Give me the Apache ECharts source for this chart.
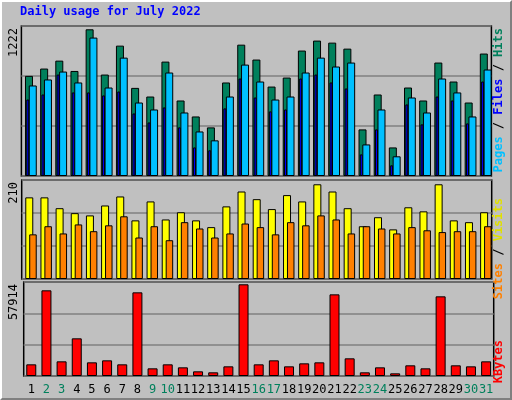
<!DOCTYPE html>
<html>
<head>
<meta charset="UTF-8">
<script src="https://cdn.jsdelivr.net/npm/echarts@6/dist/echarts.min.js"></script>
<style>
  html, body { margin: 0; padding: 0; }
  #frame {
    width: 508px; height: 396px;
    background: #c0c0c0;
    border-top: 2px solid #ffffff; border-left: 2px solid #ffffff;
    border-right: 2px solid #808080; border-bottom: 2px solid #808080;
  }
  #chart { width: 508px; height: 396px; }
</style>
</head>
<body>
<div id="frame"><div id="chart"></div></div>
<script>
// daily values
const days = ['1','2','3','4','5','6','7','8','9','10','11','12','13','14','15','16',
              '17','18','19','20','21','22','23','24','25','26','27','28','29','30','31'];
const weekend = ['2','3','9','10','16','17','23','24','30','31'];
const hits  = [834,895,961,875,1222,845,1086,734,662,953,629,496,405,779,1094,970,
               745,820,1045,1128,1111,1061,388,679,238,737,629,945,787,612,1020];
const files = [754,804,870,779,1153,737,986,612,554,862,529,371,297,662,928,787,
               637,662,862,986,912,945,263,554,164,654,529,812,696,496,887];
const pages = [637,679,845,696,696,671,704,521,446,571,405,238,214,563,812,654,
               538,554,812,845,779,729,180,388,89,596,430,662,629,438,787];
const sites  = [181,181,157,146,141,163,183,130,172,132,148,130,115,161,194,177,
                155,186,172,210,194,157,117,137,110,159,150,210,130,126,148];
const visits = [99,117,101,121,106,119,139,92,117,86,126,112,92,101,123,115,
                99,126,119,141,132,101,117,112,101,115,108,104,106,106,117];
const kbytes = [7370,54100,9260,23790,8630,9890,7370,52840,4840,7370,5470,2950,2320,6100,57914,7370,
                9890,6100,8000,8630,51570,11160,2320,5470,1680,6740,4840,50310,6740,6100,9260];

const FONT = 'DejaVu Sans Mono';
const X0 = 19, PW = 470;
// panels: [top, height, axis max (top of panel)]
const panels = [
  { top: 24, height: 150, max: 1249.5, label: '1222' },
  { top: 178, height: 99, max: 219.5, label: '210' },
  { top: 280, height: 94, max: 59366, label: '57914' }
];
const layers = [
  { p: 0, data: hits,   color: '#00805c', w: 8,   dx: 0.4,  bg: true },
  { p: 0, data: pages,  color: '#0000ff', w: 3,   dx: -0.8 },
  { p: 0, data: files,  color: '#00c0ff', w: 8,   dx: 4.2 },
  { p: 1, data: sites,  color: '#ffff00', w: 8,   dx: 0.7,  bg: true },
  { p: 1, data: visits, color: '#ff8000', w: 7.5, dx: 4.4 },
  { p: 2, data: kbytes, color: '#ff0000', w: 10,  dx: 2.7,  bg: true, labels: true }
];

const grid = [], xAxis = [], yAxis = [], series = [];
layers.forEach((l, i) => {
  const p = panels[l.p];
  grid.push({ left: X0 + l.dx, width: PW, top: p.top, height: p.height,
    show: !!l.bg, backgroundColor: '#c0c0c0', borderColor: '#000', borderWidth: l.bg ? 1.5 : 0 });
  xAxis.push({ type: 'category', gridIndex: i, data: days,
    axisLine: { show: false }, axisTick: { show: false },
    axisLabel: l.labels ? {
      show: true, margin: 8, fontFamily: FONT, fontSize: 12, interval: 0,
      formatter: v => weekend.includes(v) ? '{we|' + v + '}' : '{wd|' + v + '}',
      rich: { we: { color: '#00805c', fontFamily: FONT, fontSize: 12 },
              wd: { color: '#000', fontFamily: FONT, fontSize: 12 } }
    } : { show: false } });
  yAxis.push({ type: 'value', gridIndex: i, min: 0, max: p.max, interval: p.max / 3,
    axisLabel: { show: false }, axisLine: { show: false }, axisTick: { show: false },
    splitLine: { show: !!l.bg, lineStyle: { color: '#808080', width: 1.5 } } });
  series.push({ type: 'bar', xAxisIndex: i, yAxisIndex: i, data: l.data, barWidth: l.w,
    itemStyle: { color: l.color, borderColor: '#000', borderWidth: 1 },
    silent: true, animation: false });
});

const graphic = [
  { type: 'text', left: 18, top: 4, style: { text: 'Daily usage for July 2022',
    font: 'bold 12px ' + FONT, fill: '#0000ff' } }
];
panels.forEach(p => {
  graphic.push({ type: 'text', x: 12, y: p.top + 2, rotation: Math.PI / 2,
    style: { text: p.label, font: '12px ' + FONT, fill: '#000', align: 'right', verticalAlign: 'middle' } });
});
const sideLabels = [
  { y: 26,  rich: '{c|Pages}{k| / }{b|Files}{k| / }{h|Hits}' },
  { y: 196, rich: '{o|Sites}{k| / }{y|Visits}' },
  { y: 338, rich: '{r|KBytes}' }
];
const rs = { fontFamily: FONT, fontSize: 12, fontWeight: 'bold' };
sideLabels.forEach(s => {
  graphic.push({ type: 'text', x: 497, y: s.y, rotation: Math.PI / 2,
    style: { text: s.rich, align: 'right', verticalAlign: 'middle',
      rich: { c: { ...rs, fill: '#00c0ff' }, b: { ...rs, fill: '#0000ff' }, h: { ...rs, fill: '#00805c' },
              k: { ...rs, fill: '#000' }, o: { ...rs, fill: '#ff8000' }, y: { ...rs, fill: '#e0e000' },
              r: { ...rs, fill: '#ff0000' } } } });
});

const chart = echarts.init(document.getElementById('chart'));
chart.setOption({ animation: false, grid, xAxis, yAxis, series, graphic });
</script>
</body>
</html>
